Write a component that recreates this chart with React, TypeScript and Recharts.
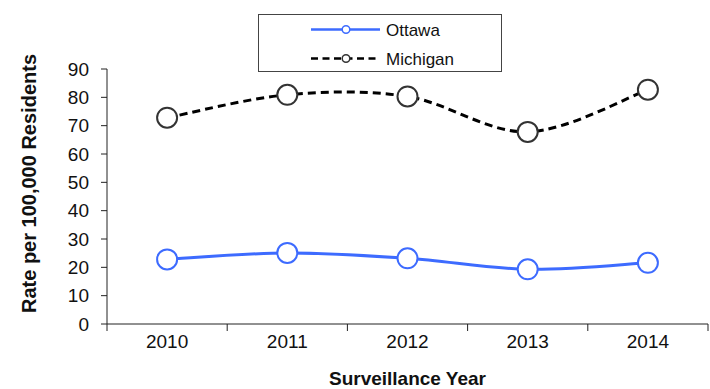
import React from 'react';
import { LineChart, Line, XAxis, YAxis } from 'recharts';

const years = [2010, 2011, 2012, 2013, 2014];
const ottawa = [22.8, 25.1, 23.2, 19.3, 21.6];
const michigan = [72.8, 80.9, 80.3, 67.8, 82.7];
const yTicks = [0, 10, 20, 30, 40, 50, 60, 70, 80, 90];

const data = years.map((year, i) => ({ year, ottawa: ottawa[i], michigan: michigan[i] }));

// category boundaries carry the tick marks, centers carry the labels
const xTicks = [...years.map((y) => y - 0.5), years[years.length - 1] + 0.5, ...years];

const FONT = "'Liberation Sans', Arial, sans-serif";
const AXIS = '#222';
const BLUE = '#3d6bff';

// Excel-style smoothed line (Catmull-Rom as cubic beziers)
function smoothCurve(context: any) {
  let pts: number[][] = [];
  return {
    areaStart() {},
    areaEnd() {},
    lineStart() {
      pts = [];
    },
    point(x: number, y: number) {
      pts.push([x, y]);
    },
    lineEnd() {
      if (!pts.length) return;
      context.moveTo(pts[0][0], pts[0][1]);
      for (let i = 0; i < pts.length - 1; i++) {
        const p0 = pts[Math.max(i - 1, 0)];
        const p1 = pts[i];
        const p2 = pts[i + 1];
        const p3 = pts[Math.min(i + 2, pts.length - 1)];
        context.bezierCurveTo(
          p1[0] + (p2[0] - p0[0]) / 6,
          p1[1] + (p2[1] - p0[1]) / 6,
          p2[0] - (p3[0] - p1[0]) / 6,
          p2[1] - (p3[1] - p1[1]) / 6,
          p2[0],
          p2[1]
        );
      }
    },
  };
}

function XTick({ x, y, payload }: any) {
  const v = payload.value as number;
  if (Number.isInteger(v)) {
    return (
      <text x={x} y={y + 24} textAnchor="middle" fontSize={19} fontFamily={FONT} fill="#111">
        {v}
      </text>
    );
  }
  return <line x1={x} y1={y} x2={x} y2={y + 7} stroke={AXIS} strokeWidth={1} />;
}

function LegendBox() {
  const rows = [
    { name: 'Ottawa', color: BLUE, dot: BLUE, dash: undefined },
    { name: 'Michigan', color: '#000', dot: '#333', dash: '7 4.5' },
  ];
  return (
    <div
      style={{
        position: 'absolute',
        left: 258,
        top: 14,
        width: 244,
        height: 58,
        border: '1px solid #444',
        background: '#fff',
        boxSizing: 'border-box',
      }}
    >
      {rows.map((r) => (
        <svg key={r.name} width={242} height={29} style={{ display: 'block' }}>
          <line x1={52} y1={14.5} x2={121} y2={14.5} stroke={r.color} strokeWidth={2.5} strokeDasharray={r.dash} />
          <circle cx={87} cy={14.5} r={3.8} fill="#fff" stroke={r.dot} strokeWidth={1.5} />
          <text x={127} y={20.5} fontSize={17} fontFamily={FONT} fill="#111">
            {r.name}
          </text>
        </svg>
      ))}
    </div>
  );
}

export default function App() {
  return (
    <div style={{ position: 'absolute', left: 0, top: 0, width: 710, height: 389, background: '#fff' }}>
      <LineChart width={710} height={389} data={data} margin={{ top: 69, right: 2, left: 0, bottom: 0 }}>
        <XAxis
          dataKey="year"
          type="number"
          domain={[2009.5, 2014.5]}
          ticks={xTicks}
          interval={0}
          tick={<XTick />}
          tickLine={false}
          tickSize={0}
          tickMargin={0}
          height={65}
          axisLine={{ stroke: AXIS, strokeWidth: 1 }}
          label={{
            value: 'Surveillance Year',
            position: 'insideBottom',
            offset: 4,
            fontSize: 19,
            fontWeight: 'bold',
            fontFamily: FONT,
            fill: '#111',
          }}
        />
        <YAxis
          domain={[0, 90]}
          ticks={yTicks}
          interval={0}
          width={107}
          tickSize={6}
          tickMargin={12}
          tick={{ fontSize: 19, fontFamily: FONT, fill: '#111' }}
          tickLine={{ stroke: AXIS }}
          axisLine={{ stroke: AXIS, strokeWidth: 1 }}
          label={{
            value: 'Rate per 100,000 Residents',
            angle: -90,
            position: 'center',
            dx: -24.5,
            dy: -13,
            fontSize: 20,
            fontWeight: 'bold',
            fontFamily: FONT,
            fill: '#111',
          }}
        />
        <Line
          type={smoothCurve as any}
          dataKey="ottawa"
          name="Ottawa"
          stroke={BLUE}
          strokeWidth={3}
          dot={{ r: 10, fill: '#fff', stroke: BLUE, strokeWidth: 2 }}
          isAnimationActive={false}
        />
        <Line
          type={smoothCurve as any}
          dataKey="michigan"
          name="Michigan"
          stroke="#000"
          strokeWidth={3}
          strokeDasharray="8 5"
          dot={{ r: 10, fill: '#fff', stroke: '#333', strokeWidth: 2, strokeDasharray: '0' }}
          isAnimationActive={false}
        />
      </LineChart>
      <LegendBox />
    </div>
  );
}
